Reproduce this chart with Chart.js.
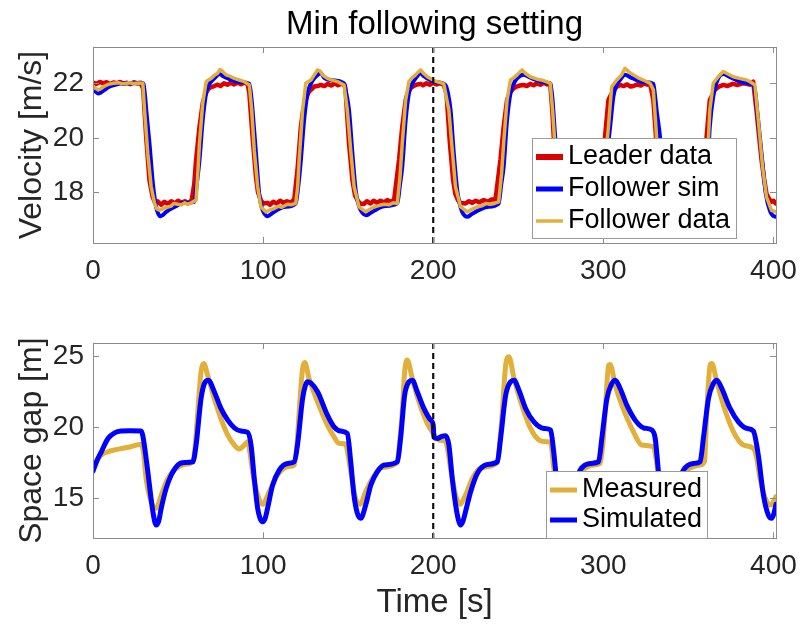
<!DOCTYPE html>
<html>
<head>
<meta charset="utf-8">
<title>Min following setting</title>
<script src="https://cdn.jsdelivr.net/npm/chart.js@4.4.1/dist/chart.umd.min.js"></script>
<style>
  html, body { margin: 0; padding: 0; background: #fff; }
  #wrap { position: relative; width: 801px; height: 624px; }
  .panel { position: absolute; left: 0; width: 801px; height: 312px; }
</style>
</head>
<body>
<div id="wrap">
  <div class="panel" style="top:0"><canvas id="velChart" width="801" height="312"></canvas></div>
  <div class="panel" style="top:312px"><canvas id="gapChart" width="801" height="312"></canvas></div>
</div>
<script>
// ---- data (time [s], value) ----
var timeTicks = [0, 100, 200, 300, 400];
var velTicks = [18, 20, 22];
var gapTicks = [15, 20, 25];
var markerTime = 200;

// top panel: velocity [m/s]
var leaderVel = [
  [0,22.03],[2,21.98],[4,22.05],[6,22.0],[8,22.04],[10,21.97],[12,22.03],[14,22.0],[16,22.05],[18,21.98],[20,22.02],[22,21.97],[24,22.04],[26,22.0],[28,22.02],
  [29.5,21.8],[31.3,20.0],[33.2,18.45],[35,17.85],[36.5,17.62],[38,17.68],[40,17.55],[42,17.66],[44,17.58],[46,17.68],[48,17.6],[50,17.7],[52,17.62],[54,17.68],[56,17.6],[58,17.72],
  [59.5,18.3],[60.6,19.19],[62.6,20.41],[64.5,21.27],[66,21.6],[67.4,21.76],[69,21.85],[71.3,21.9],[73,21.95],[75,21.9],[77,22.0],[79,21.95],[81,22.02],[83,21.96],[85,22.03],[87,21.97],[89,22.02],[90.9,21.98],
  [91.9,21.63],[93.8,20.04],[95.8,18.57],[97,18.0],[98.7,17.72],[100,17.6],[102.6,17.62],[104,17.55],[106,17.66],[108,17.6],[110,17.7],[112,17.62],[114,17.68],[116,17.62],[118.3,17.74],
  [120.2,18.82],[122.2,20.41],[123.5,21.0],[125.1,21.39],[126.5,21.65],[128.1,21.76],[130,21.88],[132,21.9],[133.9,21.94],[136,21.9],[138,21.98],[140,21.92],[142,22.0],[144,21.93],[146,21.98],[148,21.94],
  [148.6,21.63],[150.5,19.8],[152.5,18.45],[154,17.9],[155.4,17.72],[157,17.6],[159.3,17.58],[161,17.68],[163,17.6],[165,17.7],[167,17.62],[169,17.7],[171,17.64],[173,17.72],[175,17.66],[177,17.72],
  [179.9,19.19],[181.8,20.41],[183.8,21.39],[185,21.65],[186.7,21.82],[188.5,21.9],[190,21.95],[192.6,21.98],[194,21.93],[196,22.0],[198,21.95],[200,22.02],[202,21.96],[204,22.0],[206.2,21.94],
  [207.8,21.63],[209.8,19.8],[211.7,18.45],[213,17.95],[214.5,17.72],[216,17.62],[219,17.6],[221,17.68],[223,17.62],[225,17.7],[227,17.64],[229.7,17.72],[232,17.66],[234,17.74],[236.6,17.74],
  [239.5,19.19],[241.4,20.41],[243.4,21.39],[245,21.65],[247.3,21.82],[249,21.88],[251,21.92],[253.2,21.94],[255,21.9],[257,21.98],[259,21.93],[261,22.0],[263,21.95],[265,22.02],[267,21.96],[268.8,21.98],
  [270,21.0],[271.5,19.3],[273,18.2],[275,17.7],[277,17.6],[280,17.66],[283,17.6],[286,17.7],[289,17.64],[292,17.7],[295,17.66],[298,17.72],
  [299.5,18.6],[301,20.04],[303,21.39],[305.9,21.76],[308,21.88],[309.8,21.94],[312,21.9],[314,21.96],[316,21.88],[317.7,21.9],[320,21.96],[322,21.92],[324,22.0],[326,21.95],[327.5,21.98],
  [329.4,21.39],[331,20.0],[332.5,18.8],[334,18.0],[336,17.7],[338,17.6],[341,17.66],[344,17.6],[347,17.7],[350,17.64],[353,17.7],[356,17.68],[358.5,17.74],
  [359.5,18.6],[360.7,20.04],[362.6,21.39],[365.6,21.76],[368,21.88],[370.5,21.94],[373,21.9],[376,21.98],[379,21.94],[382,22.0],[384.2,21.98],[386,21.95],[388.1,22.06],
  [390.0,21.02],[391.5,20.1],[393,19.19],[394.5,18.5],[395.9,17.96],[397.5,17.75],[398.8,17.66],[400,17.7],[401.4,17.6]
];
var followerSimVel = [
  [0,21.82],[1.5,21.7],[2.9,21.63],[4.5,21.66],[6.8,21.76],[9,21.86],[12.7,21.94],[16,21.99],[20,22.0],[25,22.0],[29.5,22.0],
  [30.5,21.6],[31.3,21.02],[33.2,19.8],[35.2,18.33],[37.1,17.47],[38.5,17.2],[39.7,17.13],[41,17.17],[43,17.29],[47.9,17.47],[53.8,17.62],[59.6,17.66],
  [61,18.3],[62.6,19.19],[64.5,20.65],[66.5,21.63],[68.5,21.98],[70.4,22.12],[72.5,22.26],[74.3,22.34],[76.5,22.26],[79.2,22.18],[85,22.06],[91.9,21.98],
  [92.9,21.6],[93.8,21.02],[95.8,19.43],[97.7,17.96],[99.2,17.45],[100.7,17.23],[102.6,17.13],[104.5,17.2],[106.5,17.29],[112.4,17.47],[119.2,17.6],
  [120.8,18.3],[122.2,19.19],[124.1,20.65],[126.1,21.63],[128,21.98],[130,22.18],[132,22.31],[133.9,22.37],[136,22.2],[139.7,22.12],[147.6,22.0],
  [149,21.6],[150.5,21.02],[152.5,19.43],[154.4,18.09],[155.9,17.6],[157.4,17.35],[160.9,17.17],[163,17.25],[165.2,17.33],[171.1,17.5],[178.9,17.6],
  [180.5,18.3],[181.8,18.94],[183.8,20.65],[185.7,21.63],[187.6,21.98],[189.6,22.18],[192.6,22.37],[194.5,22.26],[196.5,22.18],[200.4,22.06],[207.2,21.94],
  [208.8,21.6],[210.2,21.02],[212.1,19.43],[214.1,18.09],[215.5,17.6],[217,17.29],[220,17.11],[222.5,17.2],[224.9,17.29],[231.7,17.47],[238.5,17.6],
  [240,18.3],[241.4,18.94],[243.4,20.65],[245.4,21.63],[247.3,21.98],[249.3,22.18],[253.2,22.31],[256,22.24],[259.1,22.15],[266.9,22.02],[268.8,21.98],
  [270,21.5],[271.5,20.2],[273.5,18.6],[275.5,17.6],[277.5,17.2],[279.5,17.13],[282,17.25],[286,17.4],[292,17.52],[298,17.6],
  [300,18.2],[302,19.3],[304,20.41],[305.9,21.51],[307.5,21.9],[309.8,22.12],[312.7,22.31],[316,22.22],[319.6,22.12],[325,22.04],[329.4,21.98],
  [330.3,21.6],[331.3,21.02],[333.3,20.04],[335,18.6],[337,17.6],[339,17.25],[341,17.12],[343,17.2],[347,17.38],[353,17.52],[359,17.6],
  [361,18.6],[362.6,20.41],[364.6,21.51],[367.5,22.18],[370.5,22.34],[374,22.24],[378.3,22.12],[383,22.02],[388.1,21.94],
  [389.5,21.6],[390.4,21.02],[393,19.43],[395.5,17.96],[398.2,17.29],[399.8,17.15],[401.4,17.11]
];
var followerDataVel = [
  [0,21.88],[1.5,21.82],[2.9,21.76],[4.5,21.8],[6.8,21.9],[9,21.96],[12,22.0],[15,22.02],[18,21.98],[21,22.02],[24,21.99],[27,22.01],[29.3,22.0],
  [30.3,21.02],[32.2,19.43],[34.2,18.21],[36.2,17.6],[37.5,17.4],[39.1,17.35],[41.5,17.42],[44,17.47],[46,17.5],[47.5,17.6],[49.9,17.57],[52,17.55],[54,17.62],[55.5,17.57],[57.7,17.62],[60.6,17.72],
  [61.6,18.7],[62.6,19.8],[64.5,21.27],[66.5,22.06],[67.8,22.12],[69.4,22.18],[71.5,22.3],[73.3,22.37],[74.5,22.5],[75.3,22.49],[76.5,22.42],[78.2,22.31],[80.5,22.26],[83.1,22.18],[86,22.12],[89,22.06],[91.9,21.94],
  [93.3,21.02],[94.8,19.55],[96.8,18.21],[98.7,17.47],[101.7,17.29],[104,17.36],[106.5,17.41],[109,17.5],[111,17.46],[114.4,17.57],[116.5,17.55],[119.2,17.6],
  [120.3,18.2],[121.2,19.19],[123.2,21.02],[125.1,22.0],[128.1,22.12],[130,22.3],[132,22.49],[133.5,22.45],[135,22.3],[137.8,22.18],[140.5,22.12],[143.7,22.06],[147.6,21.94],
  [149.5,21.02],[151.5,19.55],[153.5,18.21],[156.4,17.47],[160.3,17.29],[162.5,17.38],[165.2,17.47],[168,17.52],[171.1,17.57],[174,17.55],[176.5,17.62],[178.9,17.6],
  [180.5,18.6],[181.8,19.8],[183.8,21.39],[185.7,22.06],[187.5,22.2],[189.6,22.31],[191,22.4],[192.6,22.49],[194.5,22.35],[196.5,22.24],[200.4,22.1],[203.5,22.04],[206.2,21.98],
  [209.2,21.02],[211.2,19.55],[213.1,18.21],[216.1,17.47],[220,17.29],[222.5,17.38],[225.8,17.47],[229,17.52],[231,17.6],[233.6,17.57],[236,17.6],[238.5,17.66],
  [240.2,18.7],[241.4,19.8],[243.4,21.39],[245.4,22.12],[247.3,22.2],[249.3,22.31],[251,22.42],[252.2,22.49],[254.5,22.35],[257.1,22.24],[261,22.15],[264.9,22.1],[268.8,22.0],
  [270.2,21.0],[271.8,19.5],[273.5,18.2],[276,17.47],[279,17.3],[282,17.4],[286,17.5],[290,17.55],[294,17.58],[298.5,17.62],
  [300.5,18.6],[301.8,19.6],[303,20.41],[304.9,21.88],[307.9,22.12],[310.8,22.31],[312.7,22.55],[315,22.42],[317.7,22.31],[320.5,22.2],[323.5,22.12],[327.5,22.0],[329.4,21.76],
  [331.3,20.04],[333,18.6],[335,17.7],[337,17.35],[340,17.3],[344,17.42],[348,17.5],[352,17.56],[356,17.58],[359.5,17.65],
  [361,19.0],[362.6,21.02],[364.6,22.0],[367.5,22.24],[370.5,22.43],[373,22.35],[376.3,22.24],[380,22.18],[384.2,22.12],[386.5,22.05],[389.1,21.94],
  [391.1,20.65],[393.6,18.94],[395.9,17.84],[398.8,17.35],[401.4,17.29]
];

// bottom panel: space gap [m]
var measuredGap = [
  [0,16.92],[2,17.6],[4.9,18.04],[8.8,18.27],[12.7,18.4],[16.6,18.5],[22,18.62],[28.3,18.8],
  [29.6,18.3],[31.2,16.4],[34.2,14.77],[37.1,14.3],[40.1,15.23],[44,16.4],[47.9,16.99],[53.8,17.38],[58.7,17.57],
  [60,18.6],[61.6,21.07],[63.5,23.88],[65.1,24.46],[67.4,23.64],[71.3,22.0],[75.2,20.6],[79.2,19.44],[83.1,18.74],[86,18.46],[88.9,18.74],[90.9,18.97],
  [92.3,18.2],[93.8,16.87],[96.8,15.23],[99.7,14.58],[103.6,15.47],[108.5,16.64],[114.4,17.22],[118.3,17.34],
  [119.8,18.6],[121.2,21.07],[123.2,24.11],[124.5,24.53],[127,23.41],[132,21.78],[137.8,20.14],[141.7,19.32],[144.6,18.86],[148.6,18.79],
  [150,18.0],[151.5,16.87],[154.4,15.0],[157,14.58],[160.3,15.47],[164.3,16.4],[169.2,17.15],[178.9,17.52],
  [180.3,19.0],[181.8,21.07],[183.2,23.88],[184.7,24.7],[187.7,23.41],[191.6,21.78],[196.5,20.26],[200.4,19.49],[203.4,19.09],[207.3,18.97],
  [208.8,18.2],[210.2,17.1],[213.2,15.23],[215.7,14.58],[219,15.23],[223,16.4],[227.9,17.15],[237.7,17.52],
  [239.2,19.0],[240.6,21.07],[242.6,24.35],[244.5,24.93],[247.5,23.41],[251.4,21.78],[257.2,19.91],[262.2,19.09],[266.9,18.97],[269,18.93],
  [270.8,17.2],[272.5,15.6],[275,14.6],[278,15.3],[282,16.3],[286.4,16.87],[294.2,17.34],[298.1,17.45],
  [299.8,18.9],[301.1,21.07],[303.1,24.35],[304,24.4],[307,22.94],[310.9,21.54],[317.7,19.67],[322.6,18.74],[329.5,18.62],
  [331,17.8],[332.5,16.5],[335,15.0],[337,14.6],[340,15.3],[344,16.3],[349,16.99],[356.9,17.34],[359.5,17.6],
  [360.8,21.07],[362.8,24.35],[363.8,24.46],[366.7,23.18],[370.6,21.54],[376.5,19.67],[382.4,18.74],[388.2,18.5],
  [390.2,17.8],[392.1,16.4],[396,14.77],[398.4,14.53],[401.5,15.12]
];
var simulatedGap = [
  [0,16.92],[2.5,17.7],[4.9,18.27],[8.8,19.2],[12.7,19.6],[16.6,19.72],[22,19.74],[28.3,19.72],
  [29.3,19.4],[30.8,18.2],[32.2,16.9],[35.2,14.07],[37.1,13.13],[38.6,13.4],[40.1,14.3],[43,15.7],[46,16.64],[49.9,17.34],[53.8,17.52],[58.7,17.57],
  [60.6,18.74],[63.5,22.0],[65.5,23.06],[67.8,23.29],[71.3,22.48],[75.2,21.31],[79.2,20.49],[83.1,19.95],[87,19.72],[90.9,19.63],
  [92.9,18.74],[94.8,16.4],[96.8,14.3],[98.2,13.6],[99.7,13.36],[101.2,13.6],[102.6,14.3],[105.6,15.93],[109.5,16.99],[114.4,17.45],[118.3,17.57],
  [120.2,18.74],[123.2,22.0],[124.8,22.9],[126.1,23.18],[128,23.1],[132,22.48],[137.8,20.84],[141.7,20.02],[145.6,19.72],[149.5,19.56],
  [151.5,17.57],[153.4,15.23],[155.4,13.95],[157.4,13.6],[160.3,14.53],[163.3,15.93],[167.2,16.87],[171.1,17.34],[178.9,17.57],
  [180.8,19.2],[183.2,22.24],[185.7,23.18],[187.7,23.29],[190.6,22.48],[194.5,21.31],[198.5,20.49],[200.0,20.14],
  [200.4,19.3],[202.4,19.2],[205,19.35],[207.3,19.39],[209.2,18.74],[211.2,16.4],[213.2,14.53],[214.8,13.5],[216.1,13.13],[217.5,13.4],[219,14.07],[222,15.47],[225.9,16.75],[231.8,17.38],[237.7,17.57],
  [239.6,19.2],[242.6,22.24],[245.5,23.18],[247.5,23.29],[250.4,22.59],[254.3,21.31],[259.2,20.37],[265.1,19.91],[269,19.79],
  [270.8,18.3],[272,16.87],[274,14.5],[276,13.4],[278,13.5],[280,14.6],[283,15.9],[286.4,16.99],[292.3,17.45],[297.2,17.57],
  [299.1,19.2],[302.1,22.0],[305,23.06],[307,23.29],[309.9,22.71],[313.8,21.54],[318.7,20.49],[323.6,19.95],[328.5,19.79],
  [330.5,19.2],[332.4,16.87],[334.5,14.5],[336.5,13.4],[338.5,13.5],[340.5,14.6],[343.5,15.9],[347.1,16.99],[353,17.45],[356.9,17.57],
  [358.8,19.2],[361.8,22.0],[364.7,23.06],[366.7,23.29],[369.6,22.71],[374.5,21.31],[379.4,20.37],[384.3,19.91],[388.2,19.72],
  [391.1,18.04],[394.1,15.23],[397,13.83],[399,13.6],[400.2,13.9],[401.5,14.58]
];

var RED = '#DC0000', BLUE = '#0000FF', GOLD = '#E2B03A';
var FONT = "'Liberation Sans', Arial, Helvetica, sans-serif";
var INK = '#262626';

// matlab-like box, inward ticks, dashed marker line, axes title and in-axes legend
var axesBox = {
  id: 'axesBox',
  afterDraw: function(chart, args, opts) {
    var ctx = chart.ctx, a = chart.chartArea;
    var xs = chart.scales.x, ys = chart.scales.y;
    ctx.save();
    // dashed vertical marker
    var mx = xs.getPixelForValue(opts.marker);
    ctx.beginPath();
    ctx.setLineDash([6, 4]);
    ctx.lineWidth = 2.2;
    ctx.strokeStyle = '#111';
    ctx.moveTo(mx, a.top);
    ctx.lineTo(mx, a.bottom);
    ctx.stroke();
    ctx.setLineDash([]);
    // box + ticks
    ctx.lineWidth = 1;
    ctx.strokeStyle = '#8c8c8c';
    ctx.strokeRect(Math.round(a.left) + 0.5, Math.round(a.top) + 0.5,
      Math.round(a.right - a.left), Math.round(a.bottom - a.top));
    ctx.beginPath();
    xs.ticks.forEach(function(t) {
      var px = Math.round(xs.getPixelForValue(t.value)) + 0.5;
      ctx.moveTo(px, a.bottom); ctx.lineTo(px, a.bottom - 6);
      ctx.moveTo(px, a.top); ctx.lineTo(px, a.top + 6);
    });
    ys.ticks.forEach(function(t) {
      var py = Math.round(ys.getPixelForValue(t.value)) + 0.5;
      ctx.moveTo(a.left, py); ctx.lineTo(a.left + 6, py);
      ctx.moveTo(a.right, py); ctx.lineTo(a.right - 6, py);
    });
    ctx.stroke();
    // title centred over the axes
    if (opts.title) {
      ctx.fillStyle = '#000';
      ctx.font = opts.title.size + 'px ' + FONT;
      ctx.textAlign = 'center';
      ctx.textBaseline = 'alphabetic';
      ctx.fillText(opts.title.text, (a.left + a.right) / 2, opts.title.baseline);
    }
    // legend
    var L = opts.legend;
    ctx.fillStyle = '#fff';
    ctx.fillRect(L.left, L.top, L.right - L.left, L.bottom - L.top);
    ctx.strokeStyle = '#9a9a9a';
    ctx.lineWidth = 1;
    ctx.strokeRect(L.left + 0.5, L.top + 0.5, L.right - L.left, L.bottom - L.top);
    ctx.font = L.fontSize + 'px ' + FONT;
    ctx.textBaseline = 'middle';
    ctx.textAlign = 'left';
    L.items.forEach(function(it, i) {
      var yy = L.rows[i];
      ctx.beginPath();
      ctx.strokeStyle = it.color;
      ctx.lineWidth = it.width;
      ctx.moveTo(L.lineX0, yy);
      ctx.lineTo(L.lineX1, yy);
      ctx.stroke();
      ctx.fillStyle = '#000';
      ctx.fillText(it.label, L.textX, yy);
    });
    ctx.restore();
  }
};

function setTicks(list) {
  return function(scale) {
    scale.ticks = list.map(function(v) { return { value: v }; });
  };
}

function fixX(h) {
  return function(s) {
    s.height = h;
    s.paddingLeft = 0;
    s.paddingRight = 0;
  };
}

function lineSet(label, data, color, width, order, smooth) {
  return {
    label: label,
    data: data,
    borderColor: color,
    backgroundColor: color,
    borderWidth: width,
    pointRadius: 0,
    fill: false,
    order: order,
    borderJoinStyle: 'round',
    borderCapStyle: 'round',
    cubicInterpolationMode: smooth ? 'monotone' : 'default',
    tension: 0
  };
}

var tickFont = { family: FONT, size: 28 };
var titleFont = { family: FONT, size: 32 };

new Chart(document.getElementById('velChart'), {
  type: 'line',
  data: {
    datasets: [
      lineSet('Leader data', leaderVel, RED, 4.5, 3, false),
      lineSet('Follower sim', followerSimVel, BLUE, 4, 2, true),
      lineSet('Follower data', followerDataVel, GOLD, 3.5, 1, false)
    ]
  },
  options: {
    responsive: false,
    animation: false,
    events: [],
    layout: { padding: { left: 0, right: 25, top: 47, bottom: 0 } },
    plugins: {
      legend: { display: false },
      tooltip: { enabled: false },
      title: { display: false },
      axesBox: {
        marker: markerTime,
        title: { text: 'Min following setting', size: 33, baseline: 34 },
        legend: {
          left: 532, top: 138, right: 736, bottom: 238,
          lineX0: 536, lineX1: 563, textX: 568, fontSize: 27,
          rows: [157, 189, 221],
          items: [
            { label: 'Leader data', color: RED, width: 6 },
            { label: 'Follower sim', color: BLUE, width: 5 },
            { label: 'Follower data', color: GOLD, width: 3.5 }
          ]
        }
      }
    },
    scales: {
      x: {
        type: 'linear', min: 0, max: 401.5,
        afterBuildTicks: setTicks(timeTicks),
        afterFit: fixX(69),
        grid: { display: false, drawTicks: false },
        border: { display: false },
        ticks: { font: tickFont, color: INK, padding: 11, maxRotation: 0 }
      },
      y: {
        type: 'linear', min: 16.15, max: 23.33,
        afterBuildTicks: setTicks(velTicks),
        afterFit: function(s) { s.width = 93; },
        grid: { display: false, drawTicks: false },
        border: { display: false },
        ticks: { font: tickFont, color: INK, padding: 9 },
        title: { display: true, text: 'Velocity [m/s]', color: INK, font: titleFont, padding: { top: 13, bottom: 0 } }
      }
    }
  },
  plugins: [axesBox]
});

new Chart(document.getElementById('gapChart'), {
  type: 'line',
  data: {
    datasets: [
      lineSet('Measured', measuredGap, GOLD, 5, 2, true),
      lineSet('Simulated', simulatedGap, BLUE, 5, 1, true)
    ]
  },
  options: {
    responsive: false,
    animation: false,
    events: [],
    layout: { padding: { left: 0, right: 25, top: 31, bottom: 0 } },
    plugins: {
      legend: { display: false },
      tooltip: { enabled: false },
      axesBox: {
        marker: markerTime,
        legend: {
          left: 546, top: 159, right: 707, bottom: 226,
          lineX0: 550, lineX1: 577, textX: 582, fontSize: 27,
          rows: [178, 208],
          items: [
            { label: 'Measured', color: GOLD, width: 5 },
            { label: 'Simulated', color: BLUE, width: 5 }
          ]
        }
      }
    },
    scales: {
      x: {
        type: 'linear', min: 0, max: 401.5,
        afterBuildTicks: setTicks(timeTicks),
        afterFit: fixX(85.7),
        grid: { display: false, drawTicks: false },
        border: { display: false },
        ticks: { font: tickFont, color: INK, padding: 11.6, maxRotation: 0 },
        title: { display: true, text: 'Time [s]', color: INK, font: { family: FONT, size: 33 }, padding: { top: 0, bottom: 0.8 } }
      },
      y: {
        type: 'linear', min: 12.2, max: 25.9,
        afterBuildTicks: setTicks(gapTicks),
        afterFit: function(s) { s.width = 93; },
        grid: { display: false, drawTicks: false },
        border: { display: false },
        ticks: { font: tickFont, color: INK, padding: 9 },
        title: { display: true, text: 'Space gap [m]', color: INK, font: titleFont, padding: { top: 13, bottom: 0 } }
      }
    }
  },
  plugins: [axesBox]
});
</script>
</body>
</html>
